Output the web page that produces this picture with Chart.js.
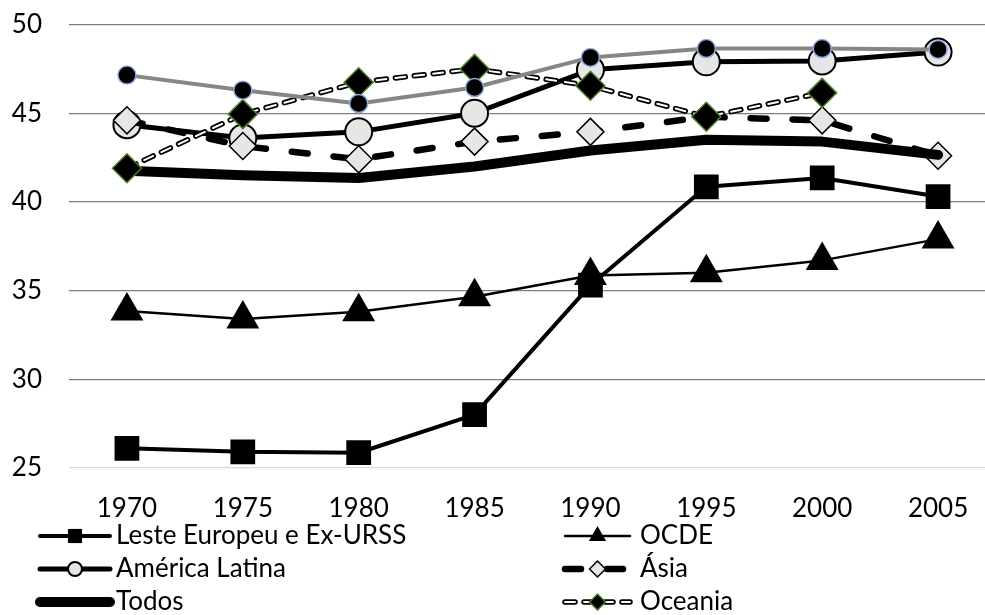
<!DOCTYPE html>
<html>
<head>
<meta charset="utf-8">
<script src="https://cdn.jsdelivr.net/npm/chart.js@4.4.1/dist/chart.umd.min.js"></script>
<style>
html, body { margin: 0; padding: 0; background: #fff; overflow: hidden; }
#wrap { width: 985px; height: 615px; overflow: hidden; position: relative; }
#wrap canvas { position: absolute; left: 0; top: -18px; }
</style>
</head>
<body>
<div id="wrap"><canvas id="myChart" width="1015" height="633"></canvas></div>
<script>
const years = ["1970", "1975", "1980", "1985", "1990", "1995", "2000", "2005"];

const leste = [26.1, 25.9, 25.85, 28.0, 35.3, 40.85, 41.35, 40.3];
const ocde = [33.85, 33.4, 33.8, 34.65, 35.85, 36.0, 36.7, 37.9];
const americaLatina = [44.35, 43.6, 43.95, 45.0, 47.45, 47.9, 47.95, 48.45];
const asia = [44.6, 43.15, 42.4, 43.4, 43.95, 44.8, 44.6, 42.6];
const todos = [41.75, 41.5, 41.35, 42.0, 42.9, 43.5, 43.4, 42.65];
const oceania = [41.9, 44.95, 46.75, 47.5, 46.55, 44.8, 46.15, null];
const serie7 = [47.15, 46.3, 45.55, 46.45, 48.15, 48.65, 48.65, 48.6];

const yTicks = [25, 30, 35, 40, 45, 50];

Chart.defaults.font.family = "Lato";
Chart.defaults.font.size = 26;
Chart.defaults.color = "#000";

const datasets = [
    {
        label: "Leste Europeu e Ex-URSS", data: leste,
        borderColor: "#000", borderWidth: 4,
        pointStyle: "rect", pointRadius: 17.5,
        pointBackgroundColor: "#000", pointBorderColor: "#000", pointBorderWidth: 0,
        order: 8,
    },
    {
        label: "OCDE", data: ocde,
        borderColor: "#000", borderWidth: 2.5,
        pointStyle: "triangle", pointRadius: 19,
        pointBackgroundColor: "#000", pointBorderColor: "#000", pointBorderWidth: 0,
        order: 7,
    },
    {
        label: "América Latina", data: americaLatina,
        borderColor: "#000", borderWidth: 5,
        pointStyle: "circle", pointRadius: 13.5,
        pointBackgroundColor: "#e6e6e6", pointBorderColor: "#000", pointBorderWidth: 2,
        order: 6,
    },
    {
        label: "Ásia", data: asia,
        borderColor: "#000", borderWidth: 6.5, borderDash: [16, 26],
        pointStyle: "rectRot", pointRadius: 13.5,
        pointBackgroundColor: "#e6e6e6", pointBorderColor: "#000", pointBorderWidth: 1.5,
        order: 5,
    },
    {
        label: "Todos", data: todos,
        borderColor: "#000", borderWidth: 10,
        pointRadius: 0,
        order: 4,
    },
    {
        // outer part of the double dashed line
        label: "Oceania", data: oceania,
        borderColor: "#000", borderWidth: 5.5, borderDash: [10, 9],
        pointRadius: 0,
        order: 3,
    },
    {
        // inner white part + markers
        label: "Oceania", data: oceania,
        borderColor: "#fff", borderWidth: 2, borderDash: [10, 9],
        pointStyle: "rectRot", pointRadius: 14.5,
        pointBackgroundColor: "#000", pointBorderColor: "#4a7f2c", pointBorderWidth: 1.5,
        order: 2,
    },
    {
        label: "Série 7", data: serie7,
        borderColor: "#868686", borderWidth: 4,
        pointStyle: "circle", pointRadius: 9,
        pointBackgroundColor: "#000", pointBorderColor: "#8eaadb", pointBorderWidth: 1.5,
        order: 1,
    },
];

// legend entries: dataset index, marker size in legend
const legendEntries = [
    { ds: 0, r: 10 },
    { ds: 1, r: 10 },
    { ds: 2, r: 7 },
    { ds: 3, r: 8 },
    { ds: 4, r: 0 },
    { ds: 5, r: 8, inner: 6 },
];

const drawLegend = {
    id: "excelLegend",
    afterDraw(chart) {
        const ctx = chart.ctx;
        const cols = [
            { x0: 40, x1: 110, tx: 116 },
            { x0: 565, x1: 630, tx: 640 },
        ];
        // canvas is shifted up 18px
        const rowsY = [554, 587, 620];
        legendEntries.forEach((e, i) => {
            const c = cols[i % 2];
            const y = rowsY[Math.floor(i / 2)];
            const ds = datasets[e.ds];
            ctx.save();
            ctx.lineCap = "round";
            ctx.strokeStyle = ds.borderColor;
            ctx.lineWidth = ds.borderWidth;
            ctx.setLineDash(ds.borderDash || []);
            ctx.beginPath();
            ctx.moveTo(c.x0, y);
            ctx.lineTo(c.x1, y);
            ctx.stroke();
            let mark = ds;
            if (e.inner) {
                const inn = datasets[e.inner];
                ctx.strokeStyle = inn.borderColor;
                ctx.lineWidth = inn.borderWidth;
                ctx.setLineDash(inn.borderDash);
                ctx.beginPath();
                ctx.moveTo(c.x0, y);
                ctx.lineTo(c.x1, y);
                ctx.stroke();
                mark = inn;
            }
            if (e.r > 0) {
                ctx.setLineDash([]);
                ctx.fillStyle = mark.pointBackgroundColor;
                ctx.strokeStyle = mark.pointBorderColor;
                ctx.lineWidth = mark.pointBorderWidth;
                Chart.helpers.drawPoint(ctx, {
                    pointStyle: mark.pointStyle, radius: e.r, rotation: 0,
                    borderWidth: mark.pointBorderWidth,
                }, (c.x0 + c.x1) / 2, y);
            }
            ctx.fillStyle = "#000";
            ctx.font = "26px Lato";
            ctx.textBaseline = "middle";
            ctx.textAlign = "left";
            ctx.fillText(ds.label, c.tx, y);
            ctx.restore();
        });
    },
};

const ctx = document.getElementById("myChart").getContext("2d");
const myChart = new Chart(ctx, {
    type: "line",
    data: { labels: years, datasets: datasets },
    options: {
        responsive: false,
        animation: false,
        events: [],
        layout: { padding: { left: 12, right: 4, top: 0, bottom: 66 } },
        elements: {
            line: { tension: 0, borderCapStyle: "round", borderJoinStyle: "round" },
        },
        plugins: {
            legend: { display: false },
            tooltip: { enabled: false },
        },
        scales: {
            x: {
                offset: true,
                grid: { display: false, drawTicks: false },
                border: { display: false },
                ticks: { padding: 25, color: "#000" },
            },
            y: {
                min: 25,
                max: 50,
                afterBuildTicks: (axis) => {
                    axis.ticks = yTicks.map((v) => ({ value: v }));
                },
                afterFit: (axis) => {
                    axis.width = 57;
                },
                ticks: { padding: 27, color: "#000" },
                grid: {
                    drawTicks: false,
                    lineWidth: 1.3,
                    color: (c) => (c.tick && c.tick.value === 25 ? "#d9d9d9" : "#7f7f7f"),
                },
                border: { display: false },
            },
        },
    },
    plugins: [drawLegend],
});
</script>
</body>
</html>
